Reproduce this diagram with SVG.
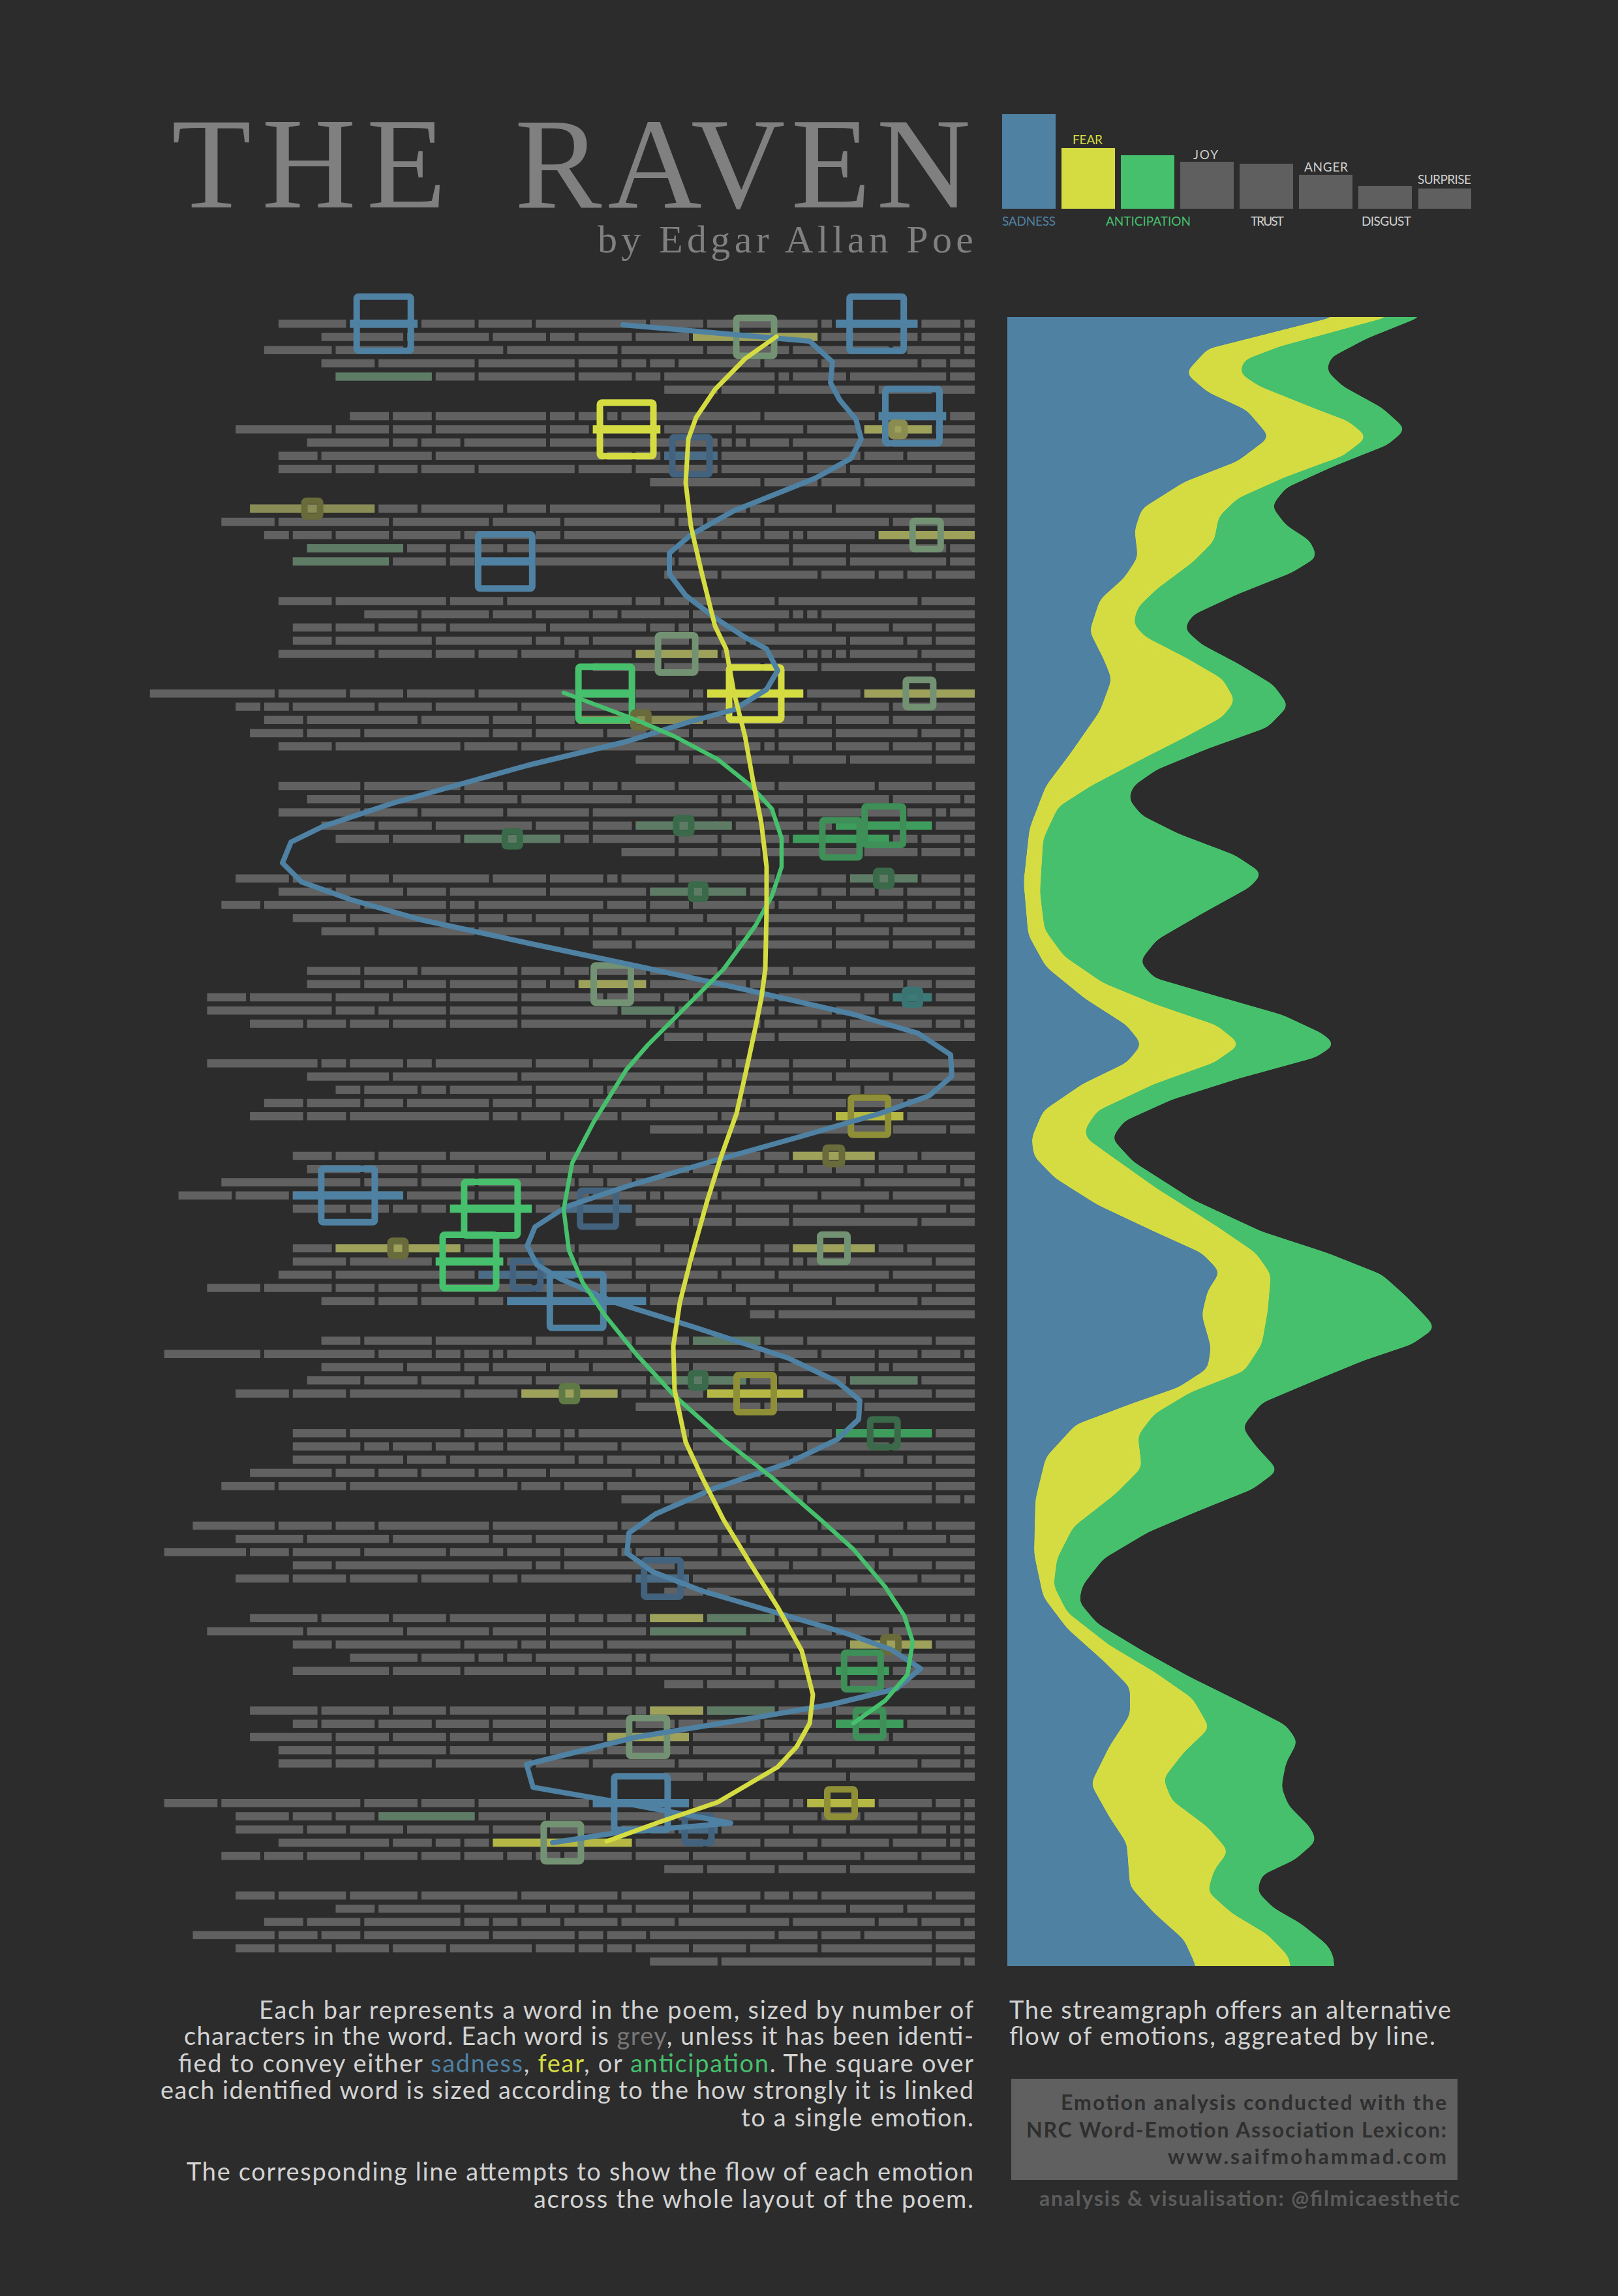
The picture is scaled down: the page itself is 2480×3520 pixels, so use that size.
<svg xmlns="http://www.w3.org/2000/svg" width="2480" height="3520" viewBox="0 0 2480 3520">
<style>
.serif{font-family:"Liberation Serif","DejaVu Serif",serif;fill:#808080}
.sans{font-family:Lato,"Liberation Sans",sans-serif}
.lab{font-size:19px;fill:#cfcfcf}
.para{font-size:38px;fill:#d2d2d2}
.box{font-size:32px;font-weight:bold;fill:#2f2f2f}
.cr{font-size:32px;font-weight:bold;fill:#5c5c5c}
.row path{fill:none}
.b{fill:#4f81a3}.y{fill:#d5dc42}.g{fill:#46c06c}
.fy{fill:#9da15a}.fy2{fill:#8a8c55}.my{fill:#b5b844}
.fg{fill:#5e7b66}.mg{fill:#3e9c5c}.fbl{fill:#4b6c87}.tl{fill:#3d7a77}
.sq rect{fill:none;stroke-width:10}
.sb{stroke:#4f81a3}.sy{stroke:#d5dc42}.sg{stroke:#46c06c}
.gg{stroke:#739273}.fbq{stroke:#42627d}.ol{stroke:#6a6b3b}.oq{stroke:#8e8f36}
.mgq{stroke:#3e8f58}.dg{stroke:#3a6a4a}.tq{stroke:#3a7573}
.sm{filter:url(#smooth)}
</style>
<defs>
<filter id="smooth" x="-8%" y="-3%" width="116%" height="106%" color-interpolation-filters="sRGB">
<feGaussianBlur stdDeviation="7"/>
<feComponentTransfer><feFuncA type="linear" slope="24" intercept="-11.5"/></feComponentTransfer>
</filter>
<clipPath id="sgclip"><rect x="1544" y="486" width="700" height="2528"/></clipPath>
</defs>
<rect width="2480" height="3520" fill="#2c2c2c"/>

<g id="title">
<text class="serif" x="263" y="318" font-size="200" textLength="421">THE</text>
<text class="serif" x="789" y="318" font-size="200" textLength="699">RAVEN</text>
<text class="serif" x="916" y="387" font-size="60" textLength="576">by Edgar Allan Poe</text>
</g>

<g id="legend">
<rect x="1536" y="175" width="82" height="145" class="b"/>
<rect x="1627" y="227" width="82" height="93" class="y"/>
<rect x="1718" y="238" width="82" height="82" class="g"/>
<rect x="1809" y="248" width="82" height="72" fill="#5f5f5f"/>
<rect x="1900" y="251" width="82" height="69" fill="#5f5f5f"/>
<rect x="1991" y="268" width="82" height="52" fill="#5f5f5f"/>
<rect x="2082" y="285" width="82" height="35" fill="#5f5f5f"/>
<rect x="2174" y="289" width="81" height="31" fill="#5f5f5f"/>
<text class="sans lab" x="1536" y="346" textLength="82" style="fill:#4f81a3">SADNESS</text>
<text class="sans lab" x="1644" y="221" textLength="46" style="fill:#d5dc42">FEAR</text>
<text class="sans lab" x="1695" y="346" textLength="130" style="fill:#46c06c">ANTICIPATION</text>
<text class="sans lab" x="1829" y="244" textLength="38">JOY</text>
<text class="sans lab" x="1917" y="346" textLength="51">TRUST</text>
<text class="sans lab" x="1999" y="263" textLength="67">ANGER</text>
<text class="sans lab" x="2087" y="346" textLength="76">DISGUST</text>
<text class="sans lab" x="2173" y="282" textLength="82">SURPRISE</text>
</g>

<g id="poem-bars" class="row" stroke="#616161" stroke-width="12.5">
<g transform="translate(0,490)">
<path d="M1494 6.25H225" stroke-dasharray="15.9 6 59.7 6 125.4 6 15.9 6 169.2 6 81.6 6 169.2 6 81.6 6 81.6 6 103.5 6 103.5 2000"/>
<path d="M1494 26.5H225" stroke-dasharray="15.9 6 59.7 6 147.3 6 191.1 6 81.6 6 81.6 6 37.8 6 81.6 6 125.4 6 125.4 2000"/>
<path d="M1494 46.75H225" stroke-dasharray="15.9 6 81.6 6 15.9 6 147.3 6 125.4 6 125.4 6 169.2 6 147.3 6 103.5 6 103.5 2000"/>
<path d="M1494 67H225" stroke-dasharray="37.8 6 37.8 6 147.3 6 81.6 6 125.4 6 37.8 6 37.8 6 59.7 6 147.3 6 147.3 6 81.6 2000"/>
<path d="M1494 87.25H225" stroke-dasharray="37.8 6 147.3 6 81.6 6 15.9 6 169.2 6 37.8 6 81.6 6 147.3 6 59.7 6 147.3 2000"/>
<path d="M1494 107.5H225" stroke-dasharray="59.7 6 81.6 6 147.3 6 81.6 6 81.6 2000"/>
</g>
<g transform="translate(0,631.75)">
<path d="M1494 6.25H225" stroke-dasharray="37.8 6 103.5 6 169.2 6 213 6 15.9 6 37.8 6 37.8 6 169.2 6 59.7 6 59.7 2000"/>
<path d="M1494 26.5H225" stroke-dasharray="59.7 6 103.5 6 81.6 6 103.5 6 103.5 6 103.5 6 59.7 6 169.2 6 59.7 6 81.6 6 147.3 2000"/>
<path d="M1494 46.75H225" stroke-dasharray="125.4 6 147.3 6 59.7 6 15.9 6 15.9 6 256.8 6 125.4 6 59.7 6 37.8 6 125.4 2000"/>
<path d="M1494 67H225" stroke-dasharray="103.5 6 59.7 6 81.6 6 125.4 6 81.6 6 37.8 6 37.8 6 256.8 6 169.2 6 59.7 2000"/>
<path d="M1494 87.25H225" stroke-dasharray="59.7 6 125.4 6 59.7 6 125.4 6 125.4 6 81.6 6 147.3 6 81.6 6 59.7 6 59.7 6 81.6 2000"/>
<path d="M1494 107.5H225" stroke-dasharray="169.2 6 59.7 6 81.6 6 169.2 2000"/>
</g>
<g transform="translate(0,773.5)">
<path d="M1494 6.25H225" stroke-dasharray="59.7 6 147.3 6 81.6 6 37.8 6 125.4 6 169.2 6 59.7 6 125.4 6 59.7 6 191.1 2000"/>
<path d="M1494 26.5H225" stroke-dasharray="125.4 6 191.1 6 81.6 6 37.8 6 169.2 6 103.5 6 147.3 6 169.2 6 81.6 2000"/>
<path d="M1494 46.75H225" stroke-dasharray="147.3 6 103.5 6 15.9 6 37.8 6 59.7 6 37.8 6 191.1 6 37.8 6 103.5 6 103.5 6 81.6 6 59.7 6 37.8 2000"/>
<path d="M1494 67H225" stroke-dasharray="37.8 6 147.3 6 81.6 6 169.2 6 213 6 37.8 6 81.6 6 59.7 6 147.3 2000"/>
<path d="M1494 87.25H225" stroke-dasharray="37.8 6 147.3 6 81.6 6 169.2 6 213 6 81.6 6 37.8 6 81.6 6 147.3 2000"/>
<path d="M1494 107.5H225" stroke-dasharray="59.7 6 37.8 6 37.8 6 81.6 6 147.3 6 81.6 2000"/>
</g>
<g transform="translate(0,915.25)">
<path d="M1494 6.25H225" stroke-dasharray="81.6 6 213 6 125.4 6 37.8 6 37.8 6 191.1 6 81.6 6 169.2 6 81.6 2000"/>
<path d="M1494 26.5H225" stroke-dasharray="234.9 6 15.9 6 15.9 6 147.3 6 103.5 6 37.8 6 81.6 6 59.7 6 103.5 6 81.6 2000"/>
<path d="M1494 46.75H225" stroke-dasharray="59.7 6 59.7 6 81.6 6 81.6 6 125.4 6 15.9 6 37.8 6 147.3 6 147.3 6 37.8 6 59.7 6 59.7 6 59.7 2000"/>
<path d="M1494 67H225" stroke-dasharray="59.7 6 37.8 6 81.6 6 147.3 6 81.6 6 147.3 6 37.8 6 37.8 6 147.3 6 147.3 6 59.7 2000"/>
<path d="M1494 87.25H225" stroke-dasharray="81.6 6 103.5 6 15.9 6 15.9 6 15.9 6 125.4 6 125.4 6 81.6 6 81.6 6 59.7 6 59.7 6 81.6 6 147.3 2000"/>
<path d="M1494 107.5H225" stroke-dasharray="59.7 6 169.2 6 81.6 6 147.3 6 103.5 2000"/>
</g>
<g transform="translate(0,1057)">
<path d="M1494 6.25H225" stroke-dasharray="169.2 6 81.6 6 147.3 6 15.9 6 81.6 6 81.6 6 147.3 6 103.5 6 81.6 6 103.5 6 191.1 2000"/>
<path d="M1494 26.5H225" stroke-dasharray="125.4 6 103.5 6 169.2 6 103.5 6 169.2 6 125.4 6 81.6 6 125.4 6 37.8 6 37.8 2000"/>
<path d="M1494 46.75H225" stroke-dasharray="59.7 6 59.7 6 81.6 6 37.8 6 147.3 6 191.1 6 59.7 6 59.7 6 103.5 6 169.2 6 59.7 2000"/>
<path d="M1494 67H225" stroke-dasharray="15.9 6 59.7 6 125.4 6 81.6 6 125.4 6 59.7 6 59.7 6 103.5 6 59.7 6 191.1 6 81.6 6 81.6 2000"/>
<path d="M1494 87.25H225" stroke-dasharray="15.9 6 37.8 6 59.7 6 81.6 6 81.6 6 15.9 6 125.4 6 169.2 6 59.7 6 81.6 6 191.1 6 81.6 2000"/>
<path d="M1494 107.5H225" stroke-dasharray="59.7 6 125.4 6 81.6 6 147.3 6 81.6 2000"/>
</g>
<g transform="translate(0,1198.75)">
<path d="M1494 6.25H225" stroke-dasharray="59.7 6 81.6 6 147.3 6 147.3 6 81.6 6 37.8 6 37.8 6 81.6 6 59.7 6 147.3 6 125.4 2000"/>
<path d="M1494 26.5H225" stroke-dasharray="15.9 6 103.5 6 125.4 6 103.5 6 15.9 6 125.4 6 169.2 6 81.6 6 147.3 6 81.6 2000"/>
<path d="M1494 46.75H225" stroke-dasharray="37.8 6 15.9 6 37.8 6 147.3 6 37.8 6 81.6 6 191.1 6 125.4 6 125.4 6 81.6 6 125.4 2000"/>
<path d="M1494 67H225" stroke-dasharray="59.7 6 147.3 6 37.8 6 59.7 6 37.8 6 147.3 6 59.7 6 81.6 6 147.3 6 81.6 6 81.6 2000"/>
<path d="M1494 87.25H225" stroke-dasharray="15.9 6 59.7 6 37.8 6 147.3 6 103.5 6 59.7 6 125.4 6 37.8 6 147.3 6 103.5 6 81.6 2000"/>
<path d="M1494 107.5H225" stroke-dasharray="15.9 6 59.7 6 81.6 6 147.3 6 59.7 6 59.7 6 81.6 2000"/>
</g>
<g transform="translate(0,1340.5)">
<path d="M1494 6.25H225" stroke-dasharray="15.9 6 59.7 6 103.5 6 103.5 6 147.3 6 81.6 6 15.9 6 81.6 6 81.6 6 147.3 6 59.7 6 81.6 6 81.6 2000"/>
<path d="M1494 26.5H225" stroke-dasharray="15.9 6 81.6 6 37.8 6 37.8 6 37.8 6 103.5 6 147.3 6 147.3 6 147.3 6 59.7 6 103.5 6 81.6 2000"/>
<path d="M1494 46.75H225" stroke-dasharray="15.9 6 37.8 6 37.8 6 103.5 6 81.6 6 125.4 6 59.7 6 59.7 6 191.1 6 37.8 6 125.4 6 147.3 6 59.7 2000"/>
<path d="M1494 67H225" stroke-dasharray="103.5 6 59.7 6 147.3 6 81.6 6 81.6 6 81.6 6 81.6 6 37.8 6 37.8 6 37.8 6 147.3 6 81.6 2000"/>
<path d="M1494 87.25H225" stroke-dasharray="15.9 6 103.5 6 81.6 6 147.3 6 81.6 6 81.6 6 37.8 6 37.8 6 125.4 6 147.3 6 81.6 2000"/>
<path d="M1494 107.5H225" stroke-dasharray="59.7 6 59.7 6 81.6 6 147.3 6 147.3 6 59.7 2000"/>
</g>
<g transform="translate(0,1482.25)">
<path d="M1494 6.25H225" stroke-dasharray="191.1 6 81.6 6 103.5 6 103.5 6 81.6 6 37.8 6 59.7 6 147.3 6 81.6 6 81.6 2000"/>
<path d="M1494 26.5H225" stroke-dasharray="59.7 6 37.8 6 234.9 6 147.3 6 103.5 6 37.8 6 37.8 6 103.5 6 59.7 6 59.7 6 81.6 2000"/>
<path d="M1494 46.75H225" stroke-dasharray="59.7 6 59.7 6 37.8 6 125.4 6 103.5 6 15.9 6 37.8 6 81.6 6 125.4 6 103.5 6 81.6 6 81.6 6 125.4 6 59.7 2000"/>
<path d="M1494 67H225" stroke-dasharray="147.3 6 59.7 6 81.6 6 147.3 6 81.6 6 147.3 6 103.5 6 103.5 6 59.7 6 191.1 2000"/>
<path d="M1494 87.25H225" stroke-dasharray="15.9 6 37.8 6 125.4 6 37.8 6 81.6 6 125.4 6 37.8 6 191.1 6 103.5 6 81.6 6 59.7 6 59.7 6 81.6 2000"/>
<path d="M1494 107.5H225" stroke-dasharray="191.1 6 103.5 6 103.5 6 59.7 2000"/>
</g>
<g transform="translate(0,1624)">
<path d="M1494 6.25H225" stroke-dasharray="191.1 6 81.6 6 81.6 6 15.9 6 191.1 6 81.6 6 147.3 6 37.8 6 81.6 6 37.8 6 169.2 2000"/>
<path d="M1494 26.5H225" stroke-dasharray="125.4 6 81.6 6 59.7 6 125.4 6 278.7 6 191.1 6 125.4 2000"/>
<path d="M1494 46.75H225" stroke-dasharray="169.2 6 103.5 6 125.4 6 59.7 6 81.6 6 103.5 6 125.4 6 37.8 6 81.6 6 37.8 2000"/>
<path d="M1494 67H225" stroke-dasharray="103.5 6 81.6 6 147.3 6 147.3 6 81.6 6 81.6 6 59.7 6 125.4 6 59.7 6 81.6 6 59.7 2000"/>
<path d="M1494 87.25H225" stroke-dasharray="103.5 6 103.5 6 81.6 6 81.6 6 147.3 6 81.6 6 59.7 6 37.8 6 213 6 59.7 6 81.6 2000"/>
<path d="M1494 107.5H225" stroke-dasharray="37.8 6 81.6 6 191.1 6 81.6 6 81.6 2000"/>
</g>
<g transform="translate(0,1765.75)">
<path d="M1494 6.25H225" stroke-dasharray="81.6 6 59.7 6 125.4 6 37.8 6 81.6 6 125.4 6 103.5 6 147.3 6 103.5 6 59.7 6 59.7 2000"/>
<path d="M1494 26.5H225" stroke-dasharray="37.8 6 59.7 6 37.8 6 59.7 6 37.8 6 37.8 6 59.7 6 59.7 6 147.3 6 81.6 6 81.6 6 81.6 6 81.6 6 81.6 2000"/>
<path d="M1494 46.75H225" stroke-dasharray="15.9 6 147.3 6 147.3 6 191.1 6 37.8 6 37.8 6 147.3 6 81.6 6 81.6 6 213 2000"/>
<path d="M1494 67H225" stroke-dasharray="125.4 6 103.5 6 147.3 6 81.6 6 15.9 6 81.6 6 169.2 6 103.5 6 169.2 6 81.6 6 81.6 2000"/>
<path d="M1494 87.25H225" stroke-dasharray="37.8 6 125.4 6 103.5 6 81.6 6 37.8 6 103.5 6 103.5 6 37.8 6 125.4 6 37.8 6 37.8 6 59.7 6 81.6 2000"/>
<path d="M1494 107.5H225" stroke-dasharray="81.6 6 191.1 6 81.6 6 59.7 6 81.6 2000"/>
</g>
<g transform="translate(0,1907.5)">
<path d="M1494 6.25H225" stroke-dasharray="103.5 6 37.8 6 125.4 6 37.8 6 103.5 6 37.8 6 125.4 6 169.2 6 191.1 6 59.7 2000"/>
<path d="M1494 26.5H225" stroke-dasharray="59.7 6 191.1 6 15.9 6 37.8 6 37.8 6 59.7 6 81.6 6 81.6 6 103.5 6 103.5 6 125.4 6 81.6 2000"/>
<path d="M1494 46.75H225" stroke-dasharray="125.4 6 169.2 6 81.6 6 125.4 6 81.6 6 147.3 6 213 6 81.6 2000"/>
<path d="M1494 67H225" stroke-dasharray="59.7 6 81.6 6 125.4 6 81.6 6 125.4 6 169.2 6 169.2 6 59.7 6 59.7 6 103.5 6 81.6 2000"/>
<path d="M1494 87.25H225" stroke-dasharray="81.6 6 125.4 6 125.4 6 59.7 6 81.6 6 213 6 37.8 6 81.6 6 59.7 6 81.6 2000"/>
<path d="M1494 107.5H225" stroke-dasharray="300.6 6 37.8 2000"/>
</g>
<g transform="translate(0,2049.25)">
<path d="M1494 6.25H225" stroke-dasharray="59.7 6 191.1 6 59.7 6 103.5 6 81.6 6 37.8 6 103.5 6 147.3 6 103.5 6 59.7 2000"/>
<path d="M1494 26.5H225" stroke-dasharray="15.9 6 59.7 6 59.7 6 81.6 6 81.6 6 191.1 6 81.6 6 103.5 6 15.9 6 37.8 6 37.8 6 81.6 6 169.2 6 147.3 2000"/>
<path d="M1494 46.75H225" stroke-dasharray="125.4 6 15.9 6 147.3 6 125.4 6 147.3 6 59.7 6 81.6 6 37.8 6 81.6 6 125.4 2000"/>
<path d="M1494 67H225" stroke-dasharray="81.6 6 103.5 6 103.5 6 37.8 6 147.3 6 169.2 6 81.6 6 81.6 6 81.6 6 81.6 2000"/>
<path d="M1494 87.25H225" stroke-dasharray="59.7 6 81.6 6 103.5 6 147.3 6 81.6 6 37.8 6 147.3 6 81.6 6 169.2 6 81.6 6 81.6 2000"/>
<path d="M1494 107.5H225" stroke-dasharray="169.2 6 37.8 6 103.5 6 191.1 2000"/>
</g>
<g transform="translate(0,2191)">
<path d="M1494 6.25H225" stroke-dasharray="59.7 6 147.3 6 213 6 169.2 6 15.9 6 37.8 6 37.8 6 59.7 6 169.2 6 81.6 2000"/>
<path d="M1494 26.5H225" stroke-dasharray="125.4 6 125.4 6 81.6 6 81.6 6 103.5 6 81.6 6 81.6 6 37.8 6 59.7 6 59.7 6 37.8 6 103.5 2000"/>
<path d="M1494 46.75H225" stroke-dasharray="59.7 6 37.8 6 169.2 6 81.6 6 81.6 6 15.9 6 81.6 6 37.8 6 191.1 6 59.7 6 81.6 6 81.6 2000"/>
<path d="M1494 67H225" stroke-dasharray="169.2 6 147.3 6 191.1 6 125.4 6 59.7 6 37.8 6 81.6 6 59.7 6 59.7 6 125.4 2000"/>
<path d="M1494 87.25H225" stroke-dasharray="59.7 6 169.2 6 191.1 6 125.4 6 59.7 6 59.7 6 256.8 6 103.5 6 81.6 2000"/>
<path d="M1494 107.5H225" stroke-dasharray="15.9 6 37.8 6 191.1 6 103.5 6 103.5 6 59.7 2000"/>
</g>
<g transform="translate(0,2332.75)">
<path d="M1494 6.25H225" stroke-dasharray="59.7 6 37.8 6 125.4 6 125.4 6 81.6 6 81.6 6 191.1 6 169.2 6 59.7 6 81.6 6 125.4 2000"/>
<path d="M1494 26.5H225" stroke-dasharray="37.8 6 103.5 6 191.1 6 37.8 6 169.2 6 103.5 6 59.7 6 147.3 6 125.4 6 103.5 2000"/>
<path d="M1494 46.75H225" stroke-dasharray="125.4 6 103.5 6 59.7 6 81.6 6 81.6 6 37.8 6 15.9 6 81.6 6 81.6 6 81.6 6 125.4 6 103.5 6 59.7 6 125.4 2000"/>
<path d="M1494 67H225" stroke-dasharray="59.7 6 81.6 6 125.4 6 169.2 6 169.2 6 37.8 6 300.6 6 59.7 2000"/>
<path d="M1494 87.25H225" stroke-dasharray="15.9 6 59.7 6 125.4 6 81.6 6 125.4 6 81.6 6 169.2 6 37.8 6 103.5 6 103.5 6 81.6 6 81.6 2000"/>
<path d="M1494 107.5H225" stroke-dasharray="191.1 6 103.5 6 103.5 6 59.7 2000"/>
</g>
<g transform="translate(0,2474.5)">
<path d="M1494 6.25H225" stroke-dasharray="15.9 6 15.9 6 169.2 6 81.6 6 103.5 6 81.6 6 15.9 6 37.8 6 37.8 6 37.8 6 147.3 6 81.6 6 103.5 6 103.5 2000"/>
<path d="M1494 26.5H225" stroke-dasharray="125.4 6 81.6 6 37.8 6 81.6 6 147.3 6 147.3 6 81.6 6 125.4 6 147.3 6 147.3 2000"/>
<path d="M1494 46.75H225" stroke-dasharray="59.7 6 125.4 6 169.2 6 191.1 6 81.6 6 37.8 6 81.6 6 191.1 6 59.7 2000"/>
<path d="M1494 67H225" stroke-dasharray="37.8 6 234.9 6 81.6 6 125.4 6 15.9 6 147.3 6 37.8 6 37.8 6 81.6 6 103.5 2000"/>
<path d="M1494 87.25H225" stroke-dasharray="15.9 6 15.9 6 81.6 6 81.6 6 125.4 6 15.9 6 147.3 6 37.8 6 37.8 6 37.8 6 125.4 6 103.5 6 147.3 2000"/>
<path d="M1494 107.5H225" stroke-dasharray="191.1 6 103.5 6 103.5 6 59.7 2000"/>
</g>
<g transform="translate(0,2616.25)">
<path d="M1494 6.25H225" stroke-dasharray="15.9 6 15.9 6 169.2 6 81.6 6 103.5 6 81.6 6 15.9 6 37.8 6 37.8 6 37.8 6 147.3 6 81.6 6 103.5 6 103.5 2000"/>
<path d="M1494 26.5H225" stroke-dasharray="103.5 6 103.5 6 103.5 6 81.6 6 37.8 6 59.7 6 125.4 6 81.6 6 81.6 6 81.6 6 81.6 6 37.8 2000"/>
<path d="M1494 46.75H225" stroke-dasharray="125.4 6 147.3 6 37.8 6 103.5 6 125.4 6 81.6 6 81.6 6 59.7 6 81.6 6 81.6 6 125.4 2000"/>
<path d="M1494 67H225" stroke-dasharray="15.9 6 125.4 6 103.5 6 37.8 6 125.4 6 125.4 6 81.6 6 147.3 6 103.5 6 59.7 6 81.6 2000"/>
<path d="M1494 87.25H225" stroke-dasharray="15.9 6 59.7 6 125.4 6 103.5 6 125.4 6 125.4 6 81.6 6 147.3 6 81.6 6 59.7 6 81.6 2000"/>
<path d="M1494 107.5H225" stroke-dasharray="191.1 6 103.5 6 103.5 6 59.7 2000"/>
</g>
<g transform="translate(0,2758)">
<path d="M1494 6.25H225" stroke-dasharray="15.9 6 37.8 6 81.6 6 103.5 6 15.9 6 37.8 6 37.8 6 59.7 6 147.3 6 169.2 6 81.6 6 81.6 6 213 6 81.6 2000"/>
<path d="M1494 26.5H225" stroke-dasharray="15.9 6 59.7 6 81.6 6 59.7 6 81.6 6 125.4 6 191.1 6 103.5 6 147.3 6 59.7 6 59.7 6 81.6 2000"/>
<path d="M1494 46.75H225" stroke-dasharray="15.9 6 15.9 6 37.8 6 103.5 6 81.6 6 103.5 6 59.7 6 37.8 6 37.8 6 103.5 6 81.6 6 125.4 6 81.6 6 59.7 6 103.5 2000"/>
<path d="M1494 67H225" stroke-dasharray="15.9 6 15.9 6 81.6 6 103.5 6 81.6 6 81.6 6 103.5 6 213 6 37.8 6 37.8 6 59.7 6 169.2 2000"/>
<path d="M1494 87.25H225" stroke-dasharray="15.9 6 59.7 6 81.6 6 81.6 6 81.6 6 81.6 6 81.6 6 103.5 6 37.8 6 37.8 6 59.7 6 59.7 6 81.6 6 81.6 6 59.7 6 59.7 2000"/>
<path d="M1494 107.5H225" stroke-dasharray="191.1 6 103.5 6 103.5 6 59.7 2000"/>
</g>
<g transform="translate(0,2899.75)">
<path d="M1494 6.25H225" stroke-dasharray="59.7 6 169.2 6 37.8 6 37.8 6 103.5 6 103.5 6 147.3 6 147.3 6 103.5 6 103.5 6 59.7 2000"/>
<path d="M1494 26.5H225" stroke-dasharray="103.5 6 81.6 6 147.3 6 81.6 6 81.6 6 37.8 6 37.8 6 37.8 6 125.4 6 125.4 6 59.7 2000"/>
<path d="M1494 46.75H225" stroke-dasharray="15.9 6 59.7 6 59.7 6 125.4 6 169.2 6 81.6 6 81.6 6 59.7 6 37.8 6 37.8 6 147.3 6 81.6 6 59.7 2000"/>
<path d="M1494 67H225" stroke-dasharray="59.7 6 103.5 6 59.7 6 59.7 6 191.1 6 59.7 6 37.8 6 125.4 6 191.1 6 59.7 6 59.7 6 125.4 2000"/>
<path d="M1494 87.25H225" stroke-dasharray="59.7 6 169.2 6 103.5 6 81.6 6 81.6 6 37.8 6 37.8 6 59.7 6 125.4 6 81.6 6 81.6 6 81.6 6 59.7 2000"/>
<path d="M1494 107.5H225" stroke-dasharray="15.9 6 37.8 6 322.5 6 103.5 2000"/>
</g>
</g>

<g id="highlighted-words">
<rect x="536.4" y="490" width="103.5" height="12.5" class="b"/>
<rect x="1281" y="490" width="125.4" height="12.5" class="b"/>
<rect x="1062" y="510.25" width="191.1" height="12.5" class="fy"/>
<rect x="514.5" y="571" width="147.3" height="12.5" class="fg"/>
<rect x="1346.7" y="631.75" width="103.5" height="12.5" class="b"/>
<rect x="908.7" y="652" width="103.5" height="12.5" class="y"/>
<rect x="1324.8" y="652" width="103.5" height="12.5" class="fy"/>
<rect x="1018.2" y="692.5" width="81.6" height="12.5" class="fbl"/>
<rect x="383.1" y="773.5" width="191.1" height="12.5" class="fy2"/>
<rect x="1346.7" y="814" width="147.3" height="12.5" class="fy"/>
<rect x="470.7" y="834.25" width="147.3" height="12.5" class="fg"/>
<rect x="448.8" y="854.5" width="147.3" height="12.5" class="fg"/>
<rect x="733.5" y="854.5" width="81.6" height="12.5" class="b"/>
<rect x="974.4" y="996.25" width="125.4" height="12.5" class="fy"/>
<rect x="886.8" y="1057" width="81.6" height="12.5" class="g"/>
<rect x="1083.9" y="1057" width="147.3" height="12.5" class="y"/>
<rect x="1324.8" y="1057" width="169.2" height="12.5" class="fy"/>
<rect x="886.8" y="1097.5" width="191.1" height="12.5" class="fy2"/>
<rect x="974.4" y="1259.5" width="147.3" height="12.5" class="fg"/>
<rect x="1281" y="1259.5" width="147.3" height="12.5" class="mg"/>
<rect x="711.6" y="1279.75" width="147.3" height="12.5" class="fg"/>
<rect x="1215.3" y="1279.75" width="147.3" height="12.5" class="mg"/>
<rect x="1302.9" y="1340.5" width="103.5" height="12.5" class="fg"/>
<rect x="996.3" y="1360.75" width="147.3" height="12.5" class="fg"/>
<rect x="886.8" y="1502.5" width="103.5" height="12.5" class="fy"/>
<rect x="1368.6" y="1522.75" width="59.7" height="12.5" class="tl"/>
<rect x="952.5" y="1543" width="81.6" height="12.5" class="fg"/>
<rect x="1281" y="1705" width="103.5" height="12.5" class="my"/>
<rect x="1215.3" y="1765.75" width="125.4" height="12.5" class="fy"/>
<rect x="448.8" y="1826.5" width="169.2" height="12.5" class="b"/>
<rect x="689.7" y="1846.75" width="125.4" height="12.5" class="g"/>
<rect x="864.9" y="1846.75" width="103.5" height="12.5" class="fbl"/>
<rect x="514.5" y="1907.5" width="191.1" height="12.5" class="fy"/>
<rect x="1215.3" y="1907.5" width="125.4" height="12.5" class="fy"/>
<rect x="667.8" y="1927.75" width="103.5" height="12.5" class="g"/>
<rect x="733.5" y="1948" width="147.3" height="12.5" class="fbl"/>
<rect x="777.3" y="1988.5" width="213" height="12.5" class="b"/>
<rect x="1062" y="2049.25" width="103.5" height="12.5" class="fg"/>
<rect x="996.3" y="2110" width="147.3" height="12.5" class="fg"/>
<rect x="1302.9" y="2110" width="103.5" height="12.5" class="fg"/>
<rect x="1083.9" y="2130.25" width="147.3" height="12.5" class="my"/>
<rect x="799.2" y="2130.25" width="147.3" height="12.5" class="fy"/>
<rect x="1281" y="2191" width="147.3" height="12.5" class="mg"/>
<rect x="974.4" y="2413.75" width="81.6" height="12.5" class="fbl"/>
<rect x="996.3" y="2474.5" width="81.6" height="12.5" class="fy"/>
<rect x="1083.9" y="2474.5" width="103.5" height="12.5" class="fg"/>
<rect x="996.3" y="2494.75" width="147.3" height="12.5" class="fg"/>
<rect x="1302.9" y="2515" width="125.4" height="12.5" class="fy"/>
<rect x="1281" y="2555.5" width="81.6" height="12.5" class="mg"/>
<rect x="996.3" y="2616.25" width="81.6" height="12.5" class="fy"/>
<rect x="1083.9" y="2616.25" width="103.5" height="12.5" class="fg"/>
<rect x="1281" y="2636.5" width="103.5" height="12.5" class="mg"/>
<rect x="930.6" y="2656.75" width="125.4" height="12.5" class="fy"/>
<rect x="908.7" y="2758" width="147.3" height="12.5" class="b"/>
<rect x="1237.2" y="2758" width="103.5" height="12.5" class="my"/>
<rect x="580.2" y="2778.25" width="147.3" height="12.5" class="fg"/>
<rect x="1040.1" y="2798.5" width="59.7" height="12.5" class="fbl"/>
<rect x="755.4" y="2818.75" width="213" height="12.5" class="my"/>
</g>

<g id="emotion-squares" class="sq">
<rect x="546.7" y="454.75" width="83" height="83" rx="3" class="sb"/>
<rect x="1302.2" y="454.75" width="83" height="83" rx="3" class="sb"/>
<rect x="1128.5" y="487.5" width="58" height="58" rx="3" class="gg"/>
<rect x="919.5" y="617.25" width="82" height="82" rx="3" class="sy"/>
<rect x="1357" y="596.5" width="83" height="83" rx="3" class="sb"/>
<rect x="1366.5" y="648.25" width="20" height="20" rx="3" stroke="#8a8c50"/>
<rect x="1030.5" y="670.25" width="57" height="57" rx="3" class="fbq"/>
<rect x="466.6" y="767.75" width="24" height="24" rx="3" class="ol"/>
<rect x="1398.8" y="798.75" width="43" height="43" rx="3" class="gg"/>
<rect x="732.8" y="819.25" width="83" height="83" rx="3" class="sb"/>
<rect x="1008.6" y="974" width="57" height="57" rx="3" class="gg"/>
<rect x="886.6" y="1022.25" width="82" height="82" rx="3" class="sg"/>
<rect x="1117.5" y="1023.25" width="80" height="80" rx="3" class="sy"/>
<rect x="1388.4" y="1042.25" width="42" height="42" rx="3" class="gg"/>
<rect x="970.9" y="1092.25" width="23" height="23" rx="3" class="ol"/>
<rect x="1036.5" y="1254.25" width="23" height="23" rx="3" class="dg"/>
<rect x="1325.2" y="1236.25" width="59" height="59" rx="3" class="mgq"/>
<rect x="773.8" y="1274.5" width="23" height="23" rx="3" class="dg"/>
<rect x="1260.5" y="1257.5" width="57" height="57" rx="3" class="mgq"/>
<rect x="1343.1" y="1335.25" width="23" height="23" rx="3" class="dg"/>
<rect x="1059" y="1356" width="22" height="22" rx="3" class="dg"/>
<rect x="910" y="1480.25" width="57" height="57" rx="3" class="gg"/>
<rect x="1387" y="1517.5" width="23" height="23" rx="3" class="tq"/>
<rect x="1304.2" y="1682.75" width="57" height="57" rx="3" class="oq"/>
<rect x="1265.5" y="1759.5" width="25" height="25" rx="3" class="ol"/>
<rect x="492.4" y="1791.75" width="82" height="82" rx="3" class="sb"/>
<rect x="711.4" y="1812" width="82" height="82" rx="3" class="sg"/>
<rect x="889.1" y="1825.5" width="55" height="55" rx="3" class="fbq"/>
<rect x="598.5" y="1902.25" width="23" height="23" rx="3" class="ol"/>
<rect x="1257" y="1892.75" width="42" height="42" rx="3" class="gg"/>
<rect x="678.5" y="1893" width="82" height="82" rx="3" class="sg"/>
<rect x="786.2" y="1933.25" width="42" height="42" rx="3" class="fbq"/>
<rect x="842.8" y="1953.75" width="82" height="82" rx="3" class="sb"/>
<rect x="1059" y="2105.25" width="22" height="22" rx="3" class="dg"/>
<rect x="1129" y="2108" width="57" height="57" rx="3" class="oq"/>
<rect x="861.4" y="2125" width="23" height="23" rx="3" stroke="#5f7a45"/>
<rect x="1333.7" y="2176.25" width="42" height="42" rx="3" class="dg"/>
<rect x="987.2" y="2392" width="56" height="56" rx="3" class="fbq"/>
<rect x="1354.1" y="2509.75" width="23" height="23" rx="3" class="ol"/>
<rect x="1293.8" y="2533.75" width="56" height="56" rx="3" class="mgq"/>
<rect x="1311.7" y="2621.75" width="42" height="42" rx="3" class="mgq"/>
<rect x="964.3" y="2634" width="58" height="58" rx="3" class="gg"/>
<rect x="941.4" y="2723.25" width="82" height="82" rx="3" class="sb"/>
<rect x="1268" y="2743.25" width="42" height="42" rx="3" class="oq"/>
<rect x="1049.5" y="2784.25" width="41" height="41" rx="3" class="fbq"/>
<rect x="833.4" y="2796.5" width="57" height="57" rx="3" class="gg"/>
</g>

<g id="connectors" fill="none" stroke-linejoin="round" stroke-linecap="round">
<path id="sadness-line" stroke="#4f81a3" stroke-width="8" d="M955 498 L1241 523 1276 555 1273 587 1287 613 1312 643 1320 673 1304 703 1250 733 1125 783 1059 820 1026 848 1026 880 1051 913 1100 950 1142 977 1175 995 1192 1028 1175 1057 1125 1088 1059 1106 960 1137 810 1173 603 1231 495 1267 446 1291 433 1323 462 1352 537 1379 645 1410 810 1446 976 1481 1142 1517 1308 1555 1407 1584 1457 1617 1459 1650 1424 1680 1349 1707 1225 1743 1100 1778 960 1819 868 1850 820 1881 808 1910 823 1939 860 1961 943 1997 1059 2033 1208 2082 1283 2118 1318 2147 1316 2176 1283 2207 1208 2243 1092 2283 1005 2321 964 2350 961 2381 1001 2410 1076 2439 1192 2473 1291 2502 1366 2529 1411 2558 1374 2589 1275 2613 1142 2636 976 2663 807 2705 817 2740 960 2765 1120 2795 943 2810 847 2825"/>
<path id="anticipation-line" stroke="#46c06c" stroke-width="6.5" d="M864 1062 L976 1104 1034 1129 1100 1164 1150 1204 1183 1240 1198 1285 1198 1329 1183 1374 1158 1419 1109 1486 1042 1553 993 1602 960 1640 910 1720 877 1783 864 1854 872 1917 893 1966 926 2015 976 2077 1034 2140 1109 2207 1183 2265 1258 2330 1308 2375 1357 2433 1386 2477 1399 2517 1391 2567 1357 2607 1308 2642"/>
<path id="fear-line" stroke="#d5dc42" stroke-width="7" d="M1190 516 L1142 550 1096 597 1067 640 1055 673 1051 740 1059 807 1076 880 1096 960 1113 995 1125 1062 1142 1129 1154 1196 1167 1262 1175 1329 1175 1396 1173 1486 1167 1530 1158 1575 1144 1640 1129 1707 1105 1774 1084 1841 1059 1930 1042 1997 1032 2064 1034 2131 1051 2211 1076 2265 1109 2330 1150 2397 1192 2464 1229 2531 1246 2598 1241 2642 1221 2678 1192 2709 1100 2763 1009 2794 930 2823"/>
</g>

<g id="streamgraph" clip-path="url(#sgclip)">
<path class="sm" fill="#46c06c" d="M1500 440 L2177 440 2177 486 2095 519 2040 548 2033 568 2058 592 2118 625 2155 658 2127 682 2044 715 1971 748 1949 776 1971 805 2008 829 2019 854 1980 878 1897 911 1828 943 1815 964 1842 988 1897 1017 1952 1050 1975 1082 1943 1115 1851 1148 1773 1180 1737 1205 1730 1225 1750 1250 1806 1278 1893 1311 1935 1339 1916 1360 1842 1401 1773 1441 1747 1474 1769 1499 1851 1523 1966 1556 2026 1584 2047 1601 2017 1621 1897 1654 1796 1686 1723 1719 1704 1745 1737 1781 1828 1839 1934 1888 2035 1921 2118 1954 2155 1987 2187 2020 2200 2036 2164 2061 2090 2086 2012 2118 1934 2151 1904 2188 1925 2217 1959 2254 1920 2283 1838 2316 1760 2349 1691 2390 1659 2431 1654 2456 1682 2489 1750 2530 1824 2571 1907 2612 1971 2645 1989 2670 1971 2703 1964 2740 1975 2768 2008 2801 2018 2822 1985 2851 1934 2875 1927 2900 1952 2925 1994 2949 2035 2982 2044 2999 2045 3014 2045 3060 1500 3060Z"/>
<path class="sm" fill="#d5dc42" d="M1500 440 L2127 440 2127 486 1962 531 1907 552 1900 572 1930 592 2012 625 2067 646 2096 670 2058 699 1971 731 1897 764 1868 792 1861 829 1828 862 1773 903 1744 931 1737 956 1755 976 1819 1009 1874 1041 1893 1074 1874 1099 1815 1131 1750 1164 1672 1205 1622 1237 1599 1286 1594 1368 1601 1425 1631 1466 1691 1507 1769 1539 1865 1572 1901 1601 1861 1629 1769 1662 1682 1703 1663 1731 1665 1745 1704 1773 1773 1822 1865 1880 1925 1921 1948 1954 1943 2011 1934 2061 1907 2102 1824 2135 1769 2168 1744 2201 1750 2250 1709 2291 1645 2341 1620 2390 1615 2431 1636 2472 1700 2522 1769 2563 1828 2604 1854 2649 1815 2686 1783 2727 1796 2760 1851 2801 1883 2838 1861 2867 1851 2900 1888 2933 1943 2966 1975 2999 1978 3014 1978 3060 1500 3060Z"/>
<path class="sm" fill="#4f81a3" d="M1500 440 L2044 440 2044 486 1851 535 1817 572 1851 601 1911 629 1946 670 1897 707 1815 739 1750 780 1739 813 1744 854 1723 886 1686 919 1670 968 1691 1009 1704 1041 1686 1090 1640 1156 1603 1205 1578 1270 1569 1352 1576 1433 1603 1482 1663 1531 1727 1572 1750 1601 1727 1629 1659 1662 1599 1703 1581 1745 1585 1773 1617 1806 1682 1847 1769 1888 1842 1921 1870 1950 1851 1979 1842 2016 1856 2065 1851 2098 1806 2127 1737 2151 1649 2184 1603 2234 1587 2299 1585 2382 1599 2448 1636 2497 1691 2546 1732 2587 1732 2629 1700 2678 1672 2735 1700 2785 1727 2826 1732 2892 1769 2933 1815 2974 1833 3014 1833 3060 1500 3060Z"/>
</g>

<g id="notes">
<text class="sans para" x="397" y="3095" textLength="1095">Each bar represents a word in the poem, sized by number of</text>
<text class="sans para" x="282" y="3135" textLength="1210">characters in the word. Each word is <tspan fill="#777777">grey</tspan>, unless it has been identi-</text>
<text class="sans para" x="273" y="3177" textLength="1219">fied to convey either <tspan fill="#4f81a3">sadness</tspan>, <tspan fill="#d5dc42">fear</tspan>, or <tspan fill="#46c06c">anticipation</tspan>. The square over</text>
<text class="sans para" x="246" y="3218" textLength="1246">each identified word is sized according to the how strongly it is linked</text>
<text class="sans para" x="1136" y="3260" textLength="356">to a single emotion.</text>
<text class="sans para" x="286" y="3343" textLength="1206">The corresponding line attempts to show the flow of each emotion</text>
<text class="sans para" x="818" y="3385" textLength="674">across the whole layout of the poem.</text>
<text class="sans para" x="1547" y="3095" textLength="677">The streamgraph offers an alternative</text>
<text class="sans para" x="1547" y="3135" textLength="653">flow of emotions, aggreated by line.</text>
<rect x="1550" y="3187" width="684" height="155" fill="#606060"/>
<text class="sans box" x="1626" y="3235" textLength="591">Emotion analysis conducted with the</text>
<text class="sans box" x="1573" y="3277" textLength="644">NRC Word-Emotion Association Lexicon:</text>
<text class="sans box" x="1790" y="3318" textLength="427">www.saifmohammad.com</text>
<text class="sans cr" x="1593" y="3382" textLength="644">analysis &amp; visualisation: @filmicaesthetic</text>
</g>
</svg>
